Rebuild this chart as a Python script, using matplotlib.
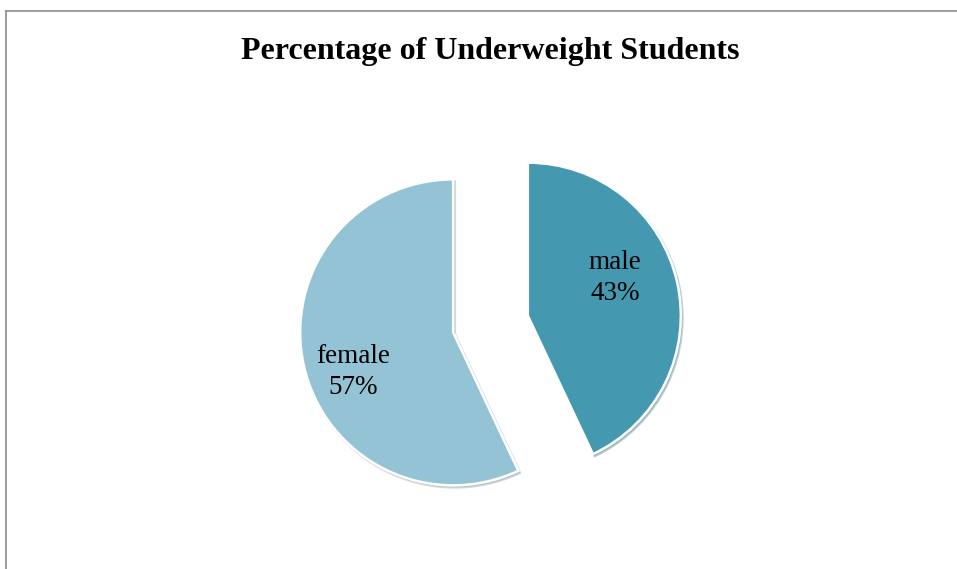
import matplotlib.pyplot as plt
from matplotlib.lines import Line2D

# chart data
labels = ["male", "female"]
shares = [43, 57]
colors = ["#4499B1", "#93C3D4"]
title = "Percentage of Underweight Students"

W, H = 957, 569
fig = plt.figure(figsize=(W / 100, H / 100), dpi=100)
fig.patch.set_facecolor("white")

# axes in pixel units so the pie can be placed like the reference
ax = fig.add_axes([0, 0, 1, 1])

radius = 153
gap = 0.25 * radius  # explode is in data units, not radius fractions
wedges, texts = ax.pie(
    shares,
    labels=[f"{n}\n{v}%" for n, v in zip(labels, shares)],
    colors=colors,
    startangle=90,
    counterclock=False,
    explode=[gap, gap],
    center=(490.5, H - 324),
    radius=radius,
    labeldistance=0.68,
    shadow={"ox": 1.2, "oy": -1.5, "shade": 0.3, "alpha": 0.3},
    wedgeprops={"edgecolor": "white", "linewidth": 1.8},
    textprops={"family": "Liberation Serif", "fontsize": 19.5,
               "ha": "center", "va": "center", "linespacing": 1.35},
)
ax.set_xlim(0, W)
ax.set_ylim(0, H)
ax.set_aspect("equal")
ax.axis("off")

# nudge the labels to where the reference has them
offsets = {"male": (615, H - 278), "female": (353, H - 372)}
for t, n in zip(texts, labels):
    t.set_position(offsets[n])
    t.set_ha("center")
    t.set_va("center")

fig.text(490 / W, 1 - 52 / H, title, family="Liberation Serif",
         fontweight="bold", fontsize=23, ha="center", va="center")

# chart frame (left and top edges visible)
fig.add_artist(Line2D([5.5 / W, 5.5 / W], [0, 1 - 11 / H], color="#8c8c8c",
                      lw=1.2, transform=fig.transFigure))
fig.add_artist(Line2D([5.5 / W, 1], [1 - 11 / H, 1 - 11 / H], color="#8c8c8c",
                      lw=1.2, transform=fig.transFigure))

fig.savefig("out.png", dpi=100)
